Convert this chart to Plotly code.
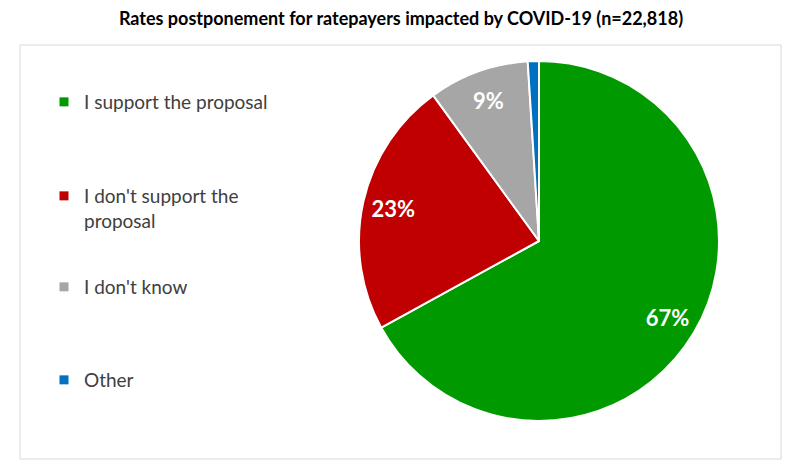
import plotly.graph_objects as go

labels = ["I support the proposal", "I don't support the proposal", "I don't know", "Other"]
legend_labels = ["I support the proposal", "I don't support the<br>proposal", "I don't know", "Other"]
values = [67, 23, 9, 1]
slice_text = ["67%", "23%", "9%", ""]
colors = ["#009900", "#C00000", "#A6A6A6", "#0070C0"]
title = "Rates postponement for ratepayers impacted by COVID-19 (n=22,818)"

W, H = 800, 468
OFF = 8  # page body offset
FONT = "Lato"

def px(x):
    return (x - OFF) / W

def py(y):
    return 1 - (y - OFF) / H

dom = dict(x=[px(359), px(719)], y=[py(421), py(61)])

fig = go.Figure()
fig.add_trace(go.Pie(
    labels=labels, values=values,
    textinfo="none",
    marker=dict(colors=colors, line=dict(color="white", width=2)),
    sort=False, direction="clockwise", rotation=0,
    domain=dom, showlegend=False, hoverinfo="label+percent",
))
# transparent ring carrying the data labels (places them near the rim)
fig.add_trace(go.Pie(
    labels=labels, values=values, text=slice_text, hole=0.66,
    textinfo="text", textposition="inside", insidetextorientation="horizontal",
    textfont=dict(family=FONT, size=22, color="white", weight="bold"),
    marker=dict(colors=["rgba(0,0,0,0)"] * 4, line=dict(width=0)),
    sort=False, direction="clockwise", rotation=0,
    domain=dom, showlegend=False, hoverinfo="skip",
))

legend_y = [102, 195, 287, 380]
layout_legends = {}
for i, (name, col) in enumerate(zip(legend_labels, colors)):
    key = "legend" if i == 0 else f"legend{i+1}"
    fig.add_trace(go.Scatter(
        x=[None], y=[None], mode="markers", name=name,
        marker=dict(symbol="square", size=9, color=col),
        legend=key, showlegend=True,
    ))
    layout_legends[key] = dict(
        x=px(36 + OFF), y=py(legend_y[i]), xanchor="left",
        yanchor="middle", valign="middle",
        bgcolor="rgba(0,0,0,0)", borderwidth=0,
        font=dict(family=FONT, size=19, color="#404040"),
        itemwidth=30,
    )

layout_legends["legend2"].update(yanchor="top", valign="top", y=py(legend_y[1] - 18))

fig.update_layout(
    width=W, height=H,
    margin=dict(l=0, r=0, t=0, b=0),
    paper_bgcolor="white", plot_bgcolor="white",
    title=dict(text=title, x=px(401), xanchor="center", y=py(19), yanchor="middle",
               font=dict(family=FONT, size=18, color="black", weight="bold")),
    xaxis=dict(visible=False), yaxis=dict(visible=False),
    shapes=[dict(type="rect", xref="paper", yref="paper",
                 x0=px(20), x1=px(781), y0=py(459), y1=py(45),
                 line=dict(color="#D9D9D9", width=1), fillcolor="rgba(0,0,0,0)", layer="below")],
    **layout_legends,
)

fig.write_html("out.html")
